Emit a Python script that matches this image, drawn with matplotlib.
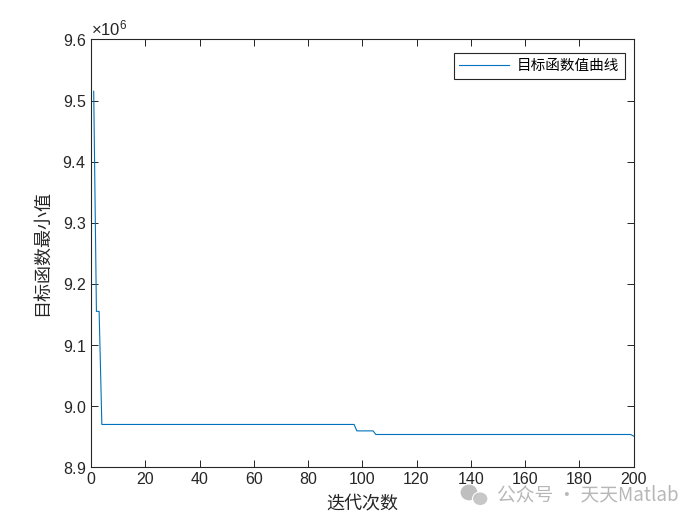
import numpy as np
import matplotlib
matplotlib.use("Agg")
import matplotlib.pyplot as plt
from matplotlib.patches import Ellipse
from matplotlib.ticker import ScalarFormatter, MultipleLocator

plt.rcParams["font.family"] = ["Liberation Sans", "Noto Sans CJK SC", "DejaVu Sans"]
plt.rcParams["mathtext.fontset"] = "custom"
plt.rcParams["mathtext.rm"] = "Liberation Sans"

# Step levels of the best objective value and how many iterations each lasts
level_values = [9.515e6, 9.155e6, 8.970e6, 8.9595e6, 8.9536e6, 8.951e6]
level_runs = [1, 2, 94, 7, 95, 1]

iterations = np.arange(1, sum(level_runs) + 1)
best_values = np.repeat(level_values, level_runs)

LINE_COLOR = "#0072BD"
TEXT_COLOR = "#262626"
CJK = ["Noto Sans CJK SC", "DejaVu Sans"]

fig = plt.figure(figsize=(7, 5.25), dpi=100, facecolor="white")
ax = fig.add_axes([0.13, 0.11, 0.775, 0.815])

ax.plot(iterations, best_values, color=LINE_COLOR, lw=0.8, label="目标函数值曲线")

ax.set_xlim(0, 200)
ax.set_ylim(8.9e6, 9.6e6)
ax.xaxis.set_major_locator(MultipleLocator(20))
ax.yaxis.set_major_locator(MultipleLocator(0.1e6))

fmt = ScalarFormatter(useMathText=True)
fmt.set_powerlimits((0, 0))
ax.yaxis.set_major_formatter(fmt)
ax.yaxis.get_offset_text().set_fontsize(12)
ax.yaxis.get_offset_text().set_color(TEXT_COLOR)

ax.tick_params(direction="in", top=True, right=True, length=5, width=0.6,
               labelsize=11.5, labelcolor=TEXT_COLOR)
for sp in ax.spines.values():
    sp.set_linewidth(0.8)
    sp.set_color(TEXT_COLOR)

ax.set_xlabel("迭代次数", fontsize=13, family=CJK, color=TEXT_COLOR, labelpad=5)
ax.set_ylabel("目标函数最小值", fontsize=13, family=CJK, color=TEXT_COLOR, labelpad=8)

leg = ax.legend(loc="upper right", prop={"family": CJK, "size": 10.5},
                fancybox=False, edgecolor=TEXT_COLOR, framealpha=1,
                handlelength=3.4, handletextpad=0.5, borderpad=0.4,
                bbox_to_anchor=(0.997, 0.985))
leg.get_frame().set_linewidth(0.8)

# watermark (icon + text)
fig.patches.append(Ellipse((0.670, 0.062), 0.024, 0.030, transform=fig.transFigure,
                           facecolor="#b8b8b8", edgecolor="none", alpha=0.9))
fig.patches.append(Ellipse((0.686, 0.050), 0.022, 0.026, transform=fig.transFigure,
                           facecolor="#c4c4c4", edgecolor="white", lw=0.8, alpha=0.95))
fig.text(0.970, 0.057, "公众号 · 天天Matlab", ha="right", va="center",
         fontsize=13.5, color="#b0b0b0", family=CJK, alpha=0.9)

fig.savefig("out.png", dpi=100, facecolor="white")
